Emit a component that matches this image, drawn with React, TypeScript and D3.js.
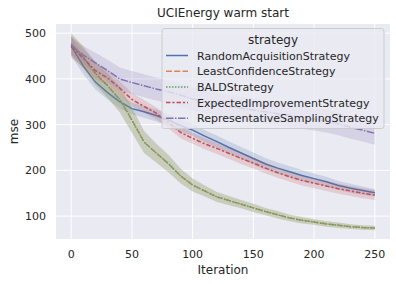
import React from 'react';
import * as d3 from 'd3';

// Data (every 10 iterations)
const iterations = [0, 10, 20, 30, 40, 50, 60, 70, 80, 90, 100, 110, 120, 130, 140, 150, 160, 170, 180, 190, 200, 210, 220, 230, 240, 250];

const strategies = [
  'RandomAcquisitionStrategy',
  'LeastConfidenceStrategy',
  'BALDStrategy',
  'ExpectedImprovementStrategy',
  'RepresentativeSamplingStrategy',
];

const randomMean = [472, 428, 393, 370, 350, 335, 328, 320, 310, 298, 288, 275, 263, 250, 238, 226, 214, 205, 197, 189, 182, 175, 167, 161, 156, 151];
const randomCI = [22, 18, 16, 15, 14, 13, 13, 13, 13, 13, 13, 13, 13, 13, 13, 13, 13, 12, 12, 12, 11, 11, 10, 10, 9, 8];

const leastConfMean = [476, 447, 412, 385, 355, 310, 262, 238, 215, 188, 168, 155, 142, 134, 126, 118, 110, 103, 96, 91, 87, 83, 80, 77, 75, 74];
const leastConfCI = [24, 24, 25, 27, 28, 28, 24, 21, 19, 16, 14, 12, 11, 10, 9, 9, 8, 8, 7, 7, 6, 6, 6, 5, 5, 5];

const baldMean = [476, 447, 412, 385, 355, 310, 262, 238, 215, 188, 168, 155, 142, 134, 126, 118, 110, 103, 96, 91, 87, 83, 80, 77, 75, 74];
const baldCI = [24, 24, 25, 27, 28, 28, 24, 21, 19, 16, 14, 12, 11, 10, 9, 9, 8, 8, 7, 7, 6, 6, 6, 5, 5, 5];

const expImpMean = [470, 445, 418, 402, 380, 355, 340, 325, 305, 283, 270, 258, 248, 237, 226, 216, 205, 195, 186, 178, 172, 166, 160, 155, 150, 146];
const expImpCI = [24, 20, 18, 16, 15, 14, 14, 13, 13, 13, 12, 12, 12, 12, 12, 12, 12, 11, 11, 11, 11, 11, 11, 11, 11, 11];

const reprMean = [473, 452, 435, 418, 400, 392, 385, 378, 372, 365, 356, 350, 345, 340, 336, 332, 328, 324, 320, 316, 312, 308, 302, 294, 288, 281];
const reprCI = [18, 20, 22, 24, 25, 25, 25, 25, 25, 25, 25, 25, 25, 25, 25, 25, 25, 25, 25, 25, 25, 25, 25, 25, 25, 25];

const xTicks = [0, 50, 100, 150, 200, 250];
const yTicks = [100, 200, 300, 400, 500];

const COLORS = ['#4c72b0', '#dd8452', '#55a868', '#c44e52', '#8172b3'];
const DASHES = ['', '6,2.25', '1.5,1.5', '4.5,1.875,2.25,1.875', '7.5,1.5,1.5,1.5'];

const W = 396;
const H = 284;
const margin = { left: 56, right: 6, top: 24, bottom: 45 };
const FONT = '"DejaVu Sans", Verdana, sans-serif';
const TEXT = '#262626';

const App = () => {
  const x = d3.scaleLinear().domain([-12.5, 262.5]).range([margin.left, W - margin.right]);
  const y = d3.scaleLinear().domain([50, 520]).range([H - margin.bottom, margin.top]);

  const series = [
    { mean: randomMean, ci: randomCI },
    { mean: leastConfMean, ci: leastConfCI },
    { mean: baldMean, ci: baldCI },
    { mean: expImpMean, ci: expImpCI },
    { mean: reprMean, ci: reprCI },
  ];

  const line = d3.line<number>().x((_, i) => x(iterations[i])).y(d => y(d));

  const plotW = W - margin.left - margin.right;
  const plotH = H - margin.top - margin.bottom;

  // legend
  const lgX = 162;
  const lgY = 28.5;
  const lgW = 222;
  const lgH = 100;
  const rowH = 15.7;

  return (
    <svg width={W} height={H} style={{ position: 'absolute', left: 0, top: 0, background: '#fff' }} fontFamily={FONT}>
      <rect x={margin.left} y={margin.top} width={plotW} height={plotH} fill="#eaeaf2" />
      {xTicks.map(t => (
        <line key={`gx${t}`} x1={x(t)} x2={x(t)} y1={margin.top} y2={margin.top + plotH} stroke="#fff" strokeWidth={1} />
      ))}
      {yTicks.map(t => (
        <line key={`gy${t}`} x1={margin.left} x2={margin.left + plotW} y1={y(t)} y2={y(t)} stroke="#fff" strokeWidth={1} />
      ))}

      {series.map((s, k) => {
        const area = d3
          .area<number>()
          .x((_, i) => x(iterations[i]))
          .y0((d, i) => y(d - s.ci[i]))
          .y1((d, i) => y(d + s.ci[i]));
        return (
          <g key={`s${k}`}>
            <path d={area(s.mean) || undefined} fill={COLORS[k]} fillOpacity={0.2} />
            <path
              d={line(s.mean) || undefined}
              fill="none"
              stroke={COLORS[k]}
              strokeWidth={1.5}
              strokeDasharray={DASHES[k] || undefined}
            />
          </g>
        );
      })}

      {xTicks.map(t => (
        <text key={`tx${t}`} x={x(t)} y={258} textAnchor="middle" fontSize={11} fill={TEXT}>
          {t}
        </text>
      ))}
      {yTicks.map(t => (
        <text key={`ty${t}`} x={46} y={y(t) + 4} textAnchor="end" fontSize={11} fill={TEXT}>
          {t}
        </text>
      ))}

      <text x={margin.left + plotW / 2} y={274} textAnchor="middle" fontSize={12} fill={TEXT}>
        Iteration
      </text>
      <text transform={`translate(18,${margin.top + plotH / 2}) rotate(-90)`} textAnchor="middle" fontSize={12} fill={TEXT}>
        mse
      </text>
      <text x={margin.left + plotW / 2} y={17} textAnchor="middle" fontSize={12} fill={TEXT}>
        UCIEnergy warm start
      </text>

      <g>
        <rect x={lgX} y={lgY} width={lgW} height={lgH} rx={2.5} fill="#eaeaf2" fillOpacity={0.8} stroke="#cccccc" strokeWidth={1} />
        <text x={lgX + lgW / 2} y={lgY + 15} textAnchor="middle" fontSize={12} fill={TEXT}>
          strategy
        </text>
        {strategies.map((name, k) => {
          const cy = lgY + 27 + k * rowH;
          return (
            <g key={name}>
              <line x1={lgX + 4} x2={lgX + 26} y1={cy} y2={cy} stroke={COLORS[k]} strokeWidth={1.5} strokeDasharray={DASHES[k] || undefined} />
              <text x={lgX + 35} y={cy + 4} fontSize={11} fill={TEXT}>
                {name}
              </text>
            </g>
          );
        })}
      </g>
    </svg>
  );
};

export default App;
